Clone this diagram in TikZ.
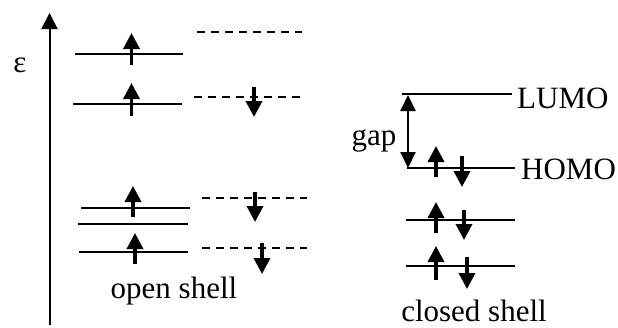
\documentclass[tikz,border=0pt]{standalone}
\usepackage{fontspec}
\setmainfont{Liberation Serif}
\usetikzlibrary{arrows.meta}
\begin{document}
\begin{tikzpicture}[x=1pt,y=-1pt,
  levelline/.style={line width=1.6pt},
  emptyline/.style={line width=1.6pt, dash pattern=on 8pt off 6pt},
  spin/.style={line width=3.5pt, -{Triangle[width=16pt,length=16pt]}},
  lbl/.style={font=\fontsize{31}{37}\selectfont, inner sep=0pt, anchor=base}]
\useasboundingbox (0,0) rectangle (618,327);
% energy axis
\coordinate (ax0) at (49.5,325);
\coordinate (ax1) at (49.5,13);
\draw[line width=2pt, -{Triangle[width=16pt,length=16pt]}] (ax0) -- (ax1);
\node[lbl] (eps) at (20,72) {ε};
% open shell levels
\coordinate (o1a) at (75,54);  \coordinate (o1b) at (183,54);
\coordinate (o2a) at (73,104); \coordinate (o2b) at (182,104);
\coordinate (o3a) at (81,208); \coordinate (o3b) at (190,208);
\coordinate (o4a) at (78,224); \coordinate (o4b) at (188,224);
\coordinate (o5a) at (79,252); \coordinate (o5b) at (188,252);
\draw[levelline] (o1a) -- (o1b);
\draw[levelline] (o2a) -- (o2b);
\draw[levelline] (o3a) -- (o3b);
\draw[levelline] (o4a) -- (o4b);
\draw[levelline] (o5a) -- (o5b);
\coordinate (d1a) at (197,32);  \coordinate (d1b) at (302,32);
\coordinate (d2a) at (194,97);  \coordinate (d2b) at (300,97);
\coordinate (d3a) at (202,198); \coordinate (d3b) at (307,198);
\coordinate (d4a) at (202,248); \coordinate (d4b) at (307,248);
\draw[emptyline] (d1a) -- (d1b);
\draw[emptyline] (d2a) -- (d2b);
\draw[emptyline] (d3a) -- (d3b);
\draw[emptyline] (d4a) -- (d4b);
% open shell spins
\coordinate (u1a) at (131.5,65);  \coordinate (u1b) at (131.5,33);
\coordinate (u2a) at (131.5,116); \coordinate (u2b) at (131.5,83);
\coordinate (u3a) at (133,217);   \coordinate (u3b) at (133,186);
\coordinate (u4a) at (135,264);   \coordinate (u4b) at (135,233);
\draw[spin] (u1a) -- (u1b);
\draw[spin] (u2a) -- (u2b);
\draw[spin] (u3a) -- (u3b);
\draw[spin] (u4a) -- (u4b);
\coordinate (v1a) at (254,87);  \coordinate (v1b) at (254,117);
\coordinate (v2a) at (255,192); \coordinate (v2b) at (255,222);
\coordinate (v3a) at (262,243); \coordinate (v3b) at (262,274);
\draw[spin] (v1a) -- (v1b);
\draw[spin] (v2a) -- (v2b);
\draw[spin] (v3a) -- (v3b);
\node[lbl] (open) at (174,298) {open shell};
% closed shell
\coordinate (la) at (402,94);  \coordinate (lb) at (512,94);
\coordinate (ha) at (407,168); \coordinate (hb) at (515,168);
\coordinate (c2a) at (406,220); \coordinate (c2b) at (515,220);
\coordinate (c3a) at (406,266); \coordinate (c3b) at (515,266);
\draw[levelline] (la) -- (lb);
\draw[levelline] (ha) -- (hb);
\draw[levelline] (c2a) -- (c2b);
\draw[levelline] (c3a) -- (c3b);
\node[lbl, anchor=base west] (lumo) at (517,108) {LUMO};
\node[lbl, anchor=base west] (homo) at (521,179) {HOMO};
\coordinate (g1) at (408,95); \coordinate (g2) at (408,168);
\draw[line width=2pt, {Triangle[width=15pt,length=16pt]}-{Triangle[width=15pt,length=16pt]}] (g1) -- (g2);
\node[lbl] (gap) at (374,145) {gap};
\coordinate (cu1a) at (436,177); \coordinate (cu1b) at (436,146);
\coordinate (cu2a) at (436,233); \coordinate (cu2b) at (436,202);
\coordinate (cu3a) at (436,280); \coordinate (cu3b) at (436,246);
\draw[spin] (cu1a) -- (cu1b);
\draw[spin] (cu2a) -- (cu2b);
\draw[spin] (cu3a) -- (cu3b);
\coordinate (cd1a) at (462,156); \coordinate (cd1b) at (462,187);
\coordinate (cd2a) at (464,210); \coordinate (cd2b) at (464,240);
\coordinate (cd3a) at (467,257); \coordinate (cd3b) at (467,289);
\draw[spin] (cd1a) -- (cd1b);
\draw[spin] (cd2a) -- (cd2b);
\draw[spin] (cd3a) -- (cd3b);
\node[lbl] (closed) at (474,321) {closed shell};
\end{tikzpicture}
\end{document}
